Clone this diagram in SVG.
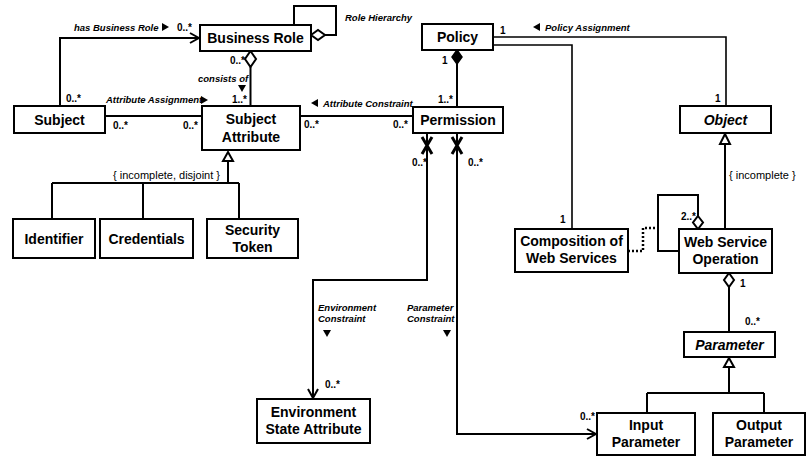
<svg xmlns="http://www.w3.org/2000/svg" width="807" height="458" viewBox="0 0 807 458">
<style>
  .box { fill: #fff; stroke: #000; stroke-width: 2; }
  .name { font-family: "Liberation Sans", Arial, sans-serif; font-weight: bold; font-size: 14px; text-anchor: middle; fill: #000; }
  .abstract { font-style: italic; }
  .lbl { font-family: "Liberation Sans", Arial, sans-serif; font-weight: bold; font-style: italic; font-size: 9.5px; fill: #000; }
  .mult { font-family: "Liberation Sans", Arial, sans-serif; font-weight: bold; font-size: 10px; fill: #000; }
  .constraint { font-family: "Liberation Sans", Arial, sans-serif; font-size: 11px; fill: #000; }
  .cn { fill: none; stroke: #000; stroke-width: 2; }
  .thin { stroke-width: 1.6; }
  .dot { stroke-dasharray: 2 2; stroke-width: 2.5; }
  .hollow { fill: #fff; stroke: #000; stroke-width: 2; }
  .solid { fill: #000; stroke: #000; stroke-width: 1.5; }
  .xmark { stroke: #000; stroke-width: 3; fill: none; }
</style>
<defs>
  <marker id="open" viewBox="0 0 12 12" refX="11" refY="6" markerWidth="12" markerHeight="12" markerUnits="userSpaceOnUse" orient="auto">
    <path d="M2,1 L11,6 L2,11" fill="none" stroke="#000" stroke-width="2"/>
  </marker>
</defs>

<!-- connectors -->
<g id="connectors">
  <!-- Subject has Business Role -->
  <path class="cn" d="M60,106 V38 H199" marker-end="url(#open)"/>
  <!-- role hierarchy self-association -->
  <path class="cn" d="M294,25 V6 H336 V35 H325"/>
  <polygon class="hollow" points="311,35 318,30 325,35 318,40"/>
  <!-- Business Role consists of Subject Attribute -->
  <polygon class="hollow" points="250.5,51 256,59 250.5,67 245,59"/>
  <path class="cn" d="M250.5,67 V106"/>
  <!-- Attribute Assignment -->
  <path class="cn" d="M105,116 H202"/>
  <!-- Attribute Constraint -->
  <path class="cn" d="M300,116 H413"/>
  <!-- Policy composed of Permissions -->
  <polygon class="solid" points="457,50 462,57 457,64 452,57"/>
  <path class="cn" d="M457,64 V107"/>
  <!-- Policy Assignment -->
  <path class="cn thin" d="M493,37 H726 V106"/>
  <path class="cn thin" d="M493,45 H572 V229"/>
  <!-- Subject Attribute specialisations -->
  <polygon class="hollow" points="228,152 233,161 223,161"/>
  <path class="cn" d="M228,161 V183 M52,183 H239 M52,183 V219 M143,183 V219 M239,183 V219"/>
  <!-- Environment Constraint -->
  <path class="cn" d="M427,133 V280 H313 V398" marker-end="url(#open)"/>
  <path class="xmark" d="M422,137 L432,154 M432,137 L422,154"/>
  <!-- Parameter Constraint -->
  <path class="cn" d="M457,133 V434 H596" marker-end="url(#open)"/>
  <path class="xmark" d="M452,137 L462,154 M462,137 L452,154"/>
  <!-- Object specialisation -->
  <polygon class="hollow" points="725,134 730,144 720,144"/>
  <path class="cn" d="M725,144 V229"/>
  <!-- Web Service Operation self-aggregation -->
  <path class="cn" d="M679,251 H658 V195 H698 V216"/>
  <polygon class="hollow" points="698,216 703,222.5 698,229 693,222.5"/>
  <!-- composition link -->
  <path class="cn dot" d="M628,251 H643 V228 H658"/>
  <!-- Web Service Operation has Parameters -->
  <polygon class="hollow" points="729,273 734,280 729,287 724,280"/>
  <path class="cn" d="M729,287 V332"/>
  <!-- Parameter specialisations -->
  <polygon class="hollow" points="729,358 734,367 724,367"/>
  <path class="cn" d="M729,367 V393 M647,393 H764 M647,393 V413 M764,393 V413"/>
</g>

<!-- association labels and multiplicities -->
<g id="labels">
  <text class="lbl" x="74" y="31">has Business Role</text>
  <polygon points="162,23 169,27 162,31"/>
  <text class="mult" x="177" y="31">0..*</text>
  <text class="lbl" x="345" y="21">Role Hierarchy</text>
  <text class="mult" x="230" y="64">0..*</text>
  <text class="lbl" x="198" y="82">consists of</text>
  <polygon points="238,85 246,85 242,92"/>
  <text class="mult" x="232" y="103">1..*</text>
  <text class="mult" x="66" y="102">0..*</text>
  <text class="lbl" x="106" y="103">Attribute Assignment</text>
  <polygon points="201,96 208,100 201,104"/>
  <text class="mult" x="113" y="129">0..*</text>
  <text class="mult" x="183" y="129">0..*</text>
  <polygon points="311,103 318,99 318,107"/>
  <text class="lbl" x="323" y="107">Attribute Constraint</text>
  <text class="mult" x="304" y="128">0..*</text>
  <text class="mult" x="393" y="128">0..*</text>
  <text class="mult" x="442" y="64">1</text>
  <text class="mult" x="438" y="103">1..*</text>
  <text class="mult" x="500" y="34">1</text>
  <polygon points="533,27 540,23 540,31"/>
  <text class="lbl" x="545" y="31">Policy Assignment</text>
  <text class="mult" x="715" y="102">1</text>
  <text class="constraint" x="113" y="179">{ incomplete, disjoint }</text>
  <text class="mult" x="412" y="166">0..*</text>
  <text class="mult" x="468" y="166">0..*</text>
  <text class="mult" x="560" y="223">1</text>
  <text class="constraint" x="729" y="179">{ incomplete }</text>
  <text class="mult" x="681" y="220">2..*</text>
  <text class="mult" x="740" y="287">1</text>
  <text class="mult" x="745" y="325">0..*</text>
  <text class="lbl" x="318" y="311">Environment</text>
  <text class="lbl" x="318" y="322">Constraint</text>
  <polygon points="323,330 331,330 327,337"/>
  <text class="lbl" x="407" y="311">Parameter</text>
  <text class="lbl" x="407" y="322">Constraint</text>
  <polygon points="443,330 451,330 447,337"/>
  <text class="mult" x="325" y="388">0..*</text>
  <text class="mult" x="580" y="420">0..*</text>
</g>

<!-- classes -->
<g id="business-role"><rect class="box" x="200" y="25" width="111" height="26"/><text class="name" x="255.5" y="43">Business Role</text></g>
<g id="policy"><rect class="box" x="422" y="24" width="71" height="26"/><text class="name" x="457.5" y="42">Policy</text></g>
<g id="subject"><rect class="box" x="14" y="106" width="91" height="27"/><text class="name" x="59.5" y="124.5">Subject</text></g>
<g id="subject-attribute"><rect class="box" x="202" y="106" width="98" height="44"/><text class="name" x="251" y="124">Subject</text><text class="name" x="251" y="142">Attribute</text></g>
<g id="permission"><rect class="box" x="413" y="107" width="90" height="26"/><text class="name" x="458" y="125">Permission</text></g>
<g id="object"><rect class="box" x="680" y="106" width="91" height="27"/><text class="name abstract" x="725.5" y="124.5">Object</text></g>
<g id="identifier"><rect class="box" x="13" y="219" width="82" height="39"/><text class="name" x="54" y="243.5">Identifier</text></g>
<g id="credentials"><rect class="box" x="100" y="219" width="93" height="39"/><text class="name" x="146.5" y="243.5">Credentials</text></g>
<g id="security-token"><rect class="box" x="207" y="219" width="91" height="39"/><text class="name" x="252.5" y="235">Security</text><text class="name" x="252.5" y="252">Token</text></g>
<g id="composition"><rect class="box" x="515" y="229" width="113" height="43"/><text class="name" x="571.5" y="246">Composition of</text><text class="name" x="571.5" y="263">Web Services</text></g>
<g id="web-service-operation"><rect class="box" x="679" y="229" width="93" height="44"/><text class="name" x="725.5" y="246.5">Web Service</text><text class="name" x="725.5" y="264">Operation</text></g>
<g id="parameter"><rect class="box" x="684" y="332" width="91" height="25"/><text class="name abstract" x="729.5" y="349.5">Parameter</text></g>
<g id="input-parameter"><rect class="box" x="597" y="413" width="98" height="42"/><text class="name" x="646" y="430">Input</text><text class="name" x="646" y="447">Parameter</text></g>
<g id="output-parameter"><rect class="box" x="713" y="413" width="92" height="42"/><text class="name" x="759" y="430">Output</text><text class="name" x="759" y="447">Parameter</text></g>
<g id="environment-state-attribute"><rect class="box" x="257" y="399" width="113" height="44"/><text class="name" x="313.5" y="416.5">Environment</text><text class="name" x="313.5" y="434">State Attribute</text></g>
</svg>
